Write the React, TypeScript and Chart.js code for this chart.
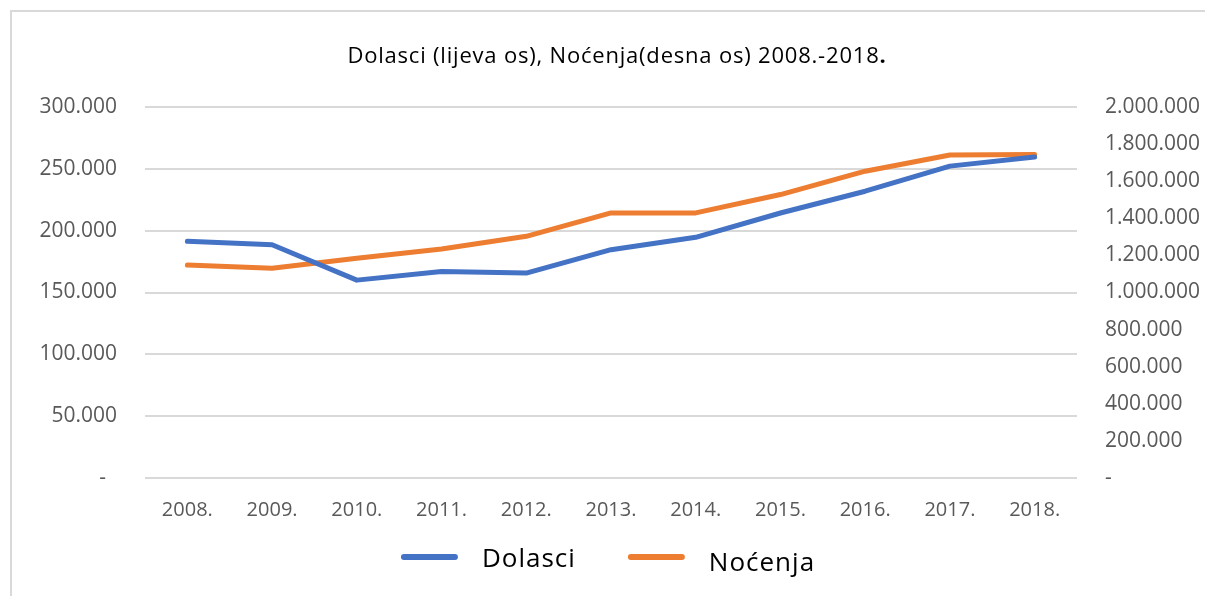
import React, { useEffect, useRef } from "react";
import { Chart, registerables } from "chart.js";

Chart.register(...registerables);

const years = ["2008.", "2009.", "2010.", "2011.", "2012.", "2013.", "2014.", "2015.", "2016.", "2017.", "2018."];
const dolasci = [191400, 188600, 160000, 167000, 165700, 184600, 194600, 214300, 231900, 252200, 259500];
const nocenja = [1148000, 1131000, 1185000, 1234000, 1303000, 1429000, 1429000, 1528000, 1654000, 1741000, 1744000];
const seriesNames = ["Dolasci", "Noćenja"];
const seriesColors = ["#4472C4", "#ED7D31"];
const titleMain = "Dolasci (lijeva os), Noćenja(desna os) 2008.-2018";
const titleEnd = ".";

const FONT = "'Open Sans', sans-serif";
const TICK_COLOR = "#595959";
const GRID_COLOR = "#D9D9D9";

const fmt = (v: number) =>
  v === 0 ? "-" : String(Math.round(v)).replace(/\B(?=(\d{3})+(?!\d))/g, ".");

const decorPlugin = {
  id: "decor",
  beforeDraw(chart: any) {
    const ctx = chart.ctx;
    ctx.save();
    ctx.strokeStyle = GRID_COLOR;
    ctx.lineWidth = 2;
    ctx.beginPath();
    ctx.moveTo(11, 700);
    ctx.lineTo(11, 11);
    ctx.lineTo(1205, 11);
    ctx.stroke();
    ctx.restore();
  },
  afterDraw(chart: any) {
    const ctx = chart.ctx;
    ctx.save();
    // title
    ctx.textBaseline = "middle";
    ctx.fillStyle = "#000000";
    (ctx as any).letterSpacing = "0.8px";
    const normalFont = `22px ${FONT}`;
    const boldFont = `bold 22px ${FONT}`;
    ctx.font = normalFont;
    const w1 = ctx.measureText(titleMain).width;
    ctx.font = boldFont;
    const w2 = ctx.measureText(titleEnd).width;
    const tx = 617 - (w1 + w2) / 2;
    ctx.font = normalFont;
    ctx.textAlign = "left";
    ctx.fillText(titleMain, tx, 57);
    ctx.font = boldFont;
    ctx.fillText(titleEnd, tx + w1, 57);

    // legend
    (ctx as any).letterSpacing = "1px";
    const lf = `26px ${FONT}`;
    ctx.font = lf;
    const lineLen = 57;
    const gapText = 24;
    const gapItem = 52;
    const widths = seriesNames.map((n) => ctx.measureText(n).width);
    const total = lineLen * 2 + gapText * 2 + widths[0] + widths[1] + gapItem;
    let x = 608 - total / 2;
    const ly = 557;
    seriesNames.forEach((name, i) => {
      ctx.strokeStyle = seriesColors[i];
      ctx.lineWidth = 6;
      ctx.lineCap = "round";
      ctx.beginPath();
      ctx.moveTo(x + 3, ly);
      ctx.lineTo(x + lineLen - 3, ly);
      ctx.stroke();
      x += lineLen + gapText;
      ctx.fillStyle = "#000000";
      ctx.textBaseline = "middle";
      ctx.fillText(name, x, ly + 3 + i * 4);
      x += widths[i] + gapItem;
    });
    ctx.restore();
  },
};

export default function App() {
  const ref = useRef<HTMLCanvasElement | null>(null);
  useEffect(() => {
    if (!ref.current) return;
    const chart = new Chart(ref.current, {
      type: "line",
      data: {
        labels: years,
        datasets: [
          {
            label: seriesNames[0],
            data: dolasci,
            borderColor: seriesColors[0],
            backgroundColor: seriesColors[0],
            borderWidth: 5,
            pointRadius: 0,
            borderCapStyle: "round",
            borderJoinStyle: "round",
            yAxisID: "y",
            tension: 0,
          },
          {
            label: seriesNames[1],
            data: nocenja,
            borderColor: seriesColors[1],
            backgroundColor: seriesColors[1],
            borderWidth: 5,
            pointRadius: 0,
            borderCapStyle: "round",
            borderJoinStyle: "round",
            yAxisID: "y1",
            tension: 0,
          },
        ],
      },
      options: {
        responsive: false,
        animation: false,
        layout: { padding: { top: 107, left: 0, right: 0, bottom: 0 } },
        plugins: {
          legend: { display: false },
          title: { display: false },
          tooltip: { enabled: false },
        },
        scales: {
          x: {
            offset: true,
            grid: { display: false, drawTicks: false },
            border: { display: false },
            ticks: {
              color: TICK_COLOR,
              font: { family: FONT, size: 20 },
              padding: 20,
              maxRotation: 0,
              autoSkip: false,
            },
            afterFit(scale: any) {
              scale.height = 118;
            },
          },
          y: {
            position: "left",
            min: 0,
            max: 300000,
            grid: { color: GRID_COLOR, lineWidth: 2, drawTicks: false },
            border: { display: false },
            ticks: {
              stepSize: 50000,
              color: TICK_COLOR,
              font: { family: FONT, size: 21 },
              padding: 28,
              callback: (v: any) => (Number(v) === 0 ? "-  " : fmt(Number(v))),
            },
            afterFit(scale: any) {
              scale.width = 145;
            },
          },
          y1: {
            position: "right",
            min: 0,
            max: 2000000,
            grid: { display: false, drawTicks: false },
            border: { display: false },
            ticks: {
              stepSize: 200000,
              color: TICK_COLOR,
              font: { family: FONT, size: 21 },
              padding: 28,
              callback: (v: any) => fmt(Number(v)),
            },
            afterFit(scale: any) {
              scale.width = 128;
            },
          },
        },
      },
      plugins: [decorPlugin],
    });
    return () => chart.destroy();
  }, []);
  return (
    <div style={{ position: "fixed", left: 0, top: 0, width: 1205, height: 596, background: "#fff" }}>
      <canvas ref={ref} width={1205} height={596} style={{ display: "block" }} />
    </div>
  );
}
